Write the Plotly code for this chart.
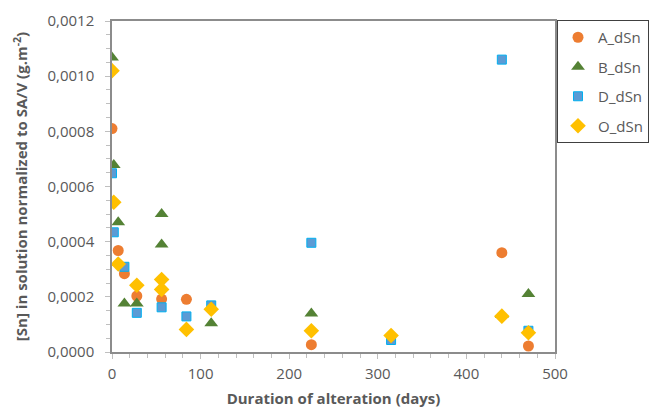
import plotly.graph_objects as go

# Data (days, [Sn] normalized)
a_x = [0, 7, 14, 28, 56, 84, 225, 440, 470]
a_y = [0.00081, 0.000368, 0.000284, 0.000203, 0.000192, 0.000191, 0.0000265, 0.00036, 0.0000217]

b_x = [0, 2, 7, 14, 28, 56, 56, 112, 225, 440, 470]
b_y = [0.001068, 0.000678, 0.00047, 0.000176, 0.000176, 0.0005, 0.00039, 0.000104, 0.00014, 0.000134, 0.00021]

d_x = [0, 2, 14, 28, 56, 84, 112, 225, 315, 440, 470]
d_y = [0.000648, 0.000434, 0.000309, 0.000142, 0.000162, 0.000129, 0.000169, 0.000396, 0.0000435, 0.00106, 0.000077]

o_x = [0, 2, 7, 28, 56, 56, 84, 112, 225, 315, 440, 470]
o_y = [0.00102, 0.000543, 0.000319, 0.000242, 0.000263, 0.000227, 0.000082, 0.000155, 0.000077, 0.00006, 0.00013, 0.00007]

FONT = "Open Sans"
GRAY = "#595959"
FS = 15

fig = go.Figure()
fig.add_trace(go.Scatter(x=a_x, y=a_y, mode="markers", name="A_dSn", legendgroup="a",
                         marker=dict(symbol="circle", size=11, color="#ED7D31")))
fig.add_trace(go.Scatter(x=b_x, y=b_y, mode="markers", name="B_dSn", legendgroup="b",
                         marker=dict(symbol="triangle-up", size=12, color="#548235")))
fig.add_trace(go.Scatter(x=d_x, y=d_y, mode="markers", name="D_dSn", legendgroup="d",
                         marker=dict(symbol="square", size=9, color="#5B9BD5",
                                     line=dict(color="#00B0F0", width=1))))
fig.add_trace(go.Scatter(x=o_x, y=o_y, mode="markers", name="O_dSn", legendgroup="o",
                         marker=dict(symbol="diamond", size=12, color="#FFC000")))

fig.update_layout(
    width=649, height=409,
    margin=dict(l=112, r=94, t=21, b=57, autoexpand=False),
    paper_bgcolor="white", plot_bgcolor="white",
    separators=", ",
    font=dict(family=FONT, size=FS, color=GRAY),
    legend=dict(xref="container", yref="container", x=557/649, y=1 - 20/409,
                xanchor="left", yanchor="top",
                bordercolor="#404040", borderwidth=1,
                font=dict(family=FONT, size=FS, color=GRAY),
                tracegroupgap=7, itemwidth=30,
                entrywidth=50, entrywidthmode="pixels"),
    xaxis=dict(range=[0, 500], tickmode="linear", tick0=0, dtick=100,
               showgrid=False, zeroline=False,
               showline=True, linecolor="#8C8C8C", linewidth=1.5, mirror=True,
               ticks="outside", ticklen=5, tickcolor="#BFBFBF",
               minor=dict(dtick=20, ticks="outside", ticklen=4, tickcolor="#BFBFBF"),
               tickfont=dict(size=FS, color=GRAY), ticklabelstandoff=2,
               title=dict(text="<b>Duration of alteration (days)</b>", standoff=12,
                          font=dict(size=FS, color=GRAY))),
    yaxis=dict(range=[0, 0.0012], tickmode="linear", tick0=0, dtick=0.0002,
               tickformat=".4f",
               showgrid=False, zeroline=False,
               showline=True, linecolor="#8C8C8C", linewidth=1.5, mirror=True,
               ticks="outside", ticklen=5, tickcolor="#BFBFBF",
               minor=dict(dtick=0.00005, ticks="outside", ticklen=4, tickcolor="#BFBFBF"),
               tickfont=dict(size=FS, color=GRAY), ticklabelstandoff=8,
               title=dict(text="<b>[Sn] in solution normalized to SA/V (g.m<sup>-2</sup>)</b>",
                          standoff=16, font=dict(size=FS, color=GRAY))),
)

fig.write_html("out.html")
